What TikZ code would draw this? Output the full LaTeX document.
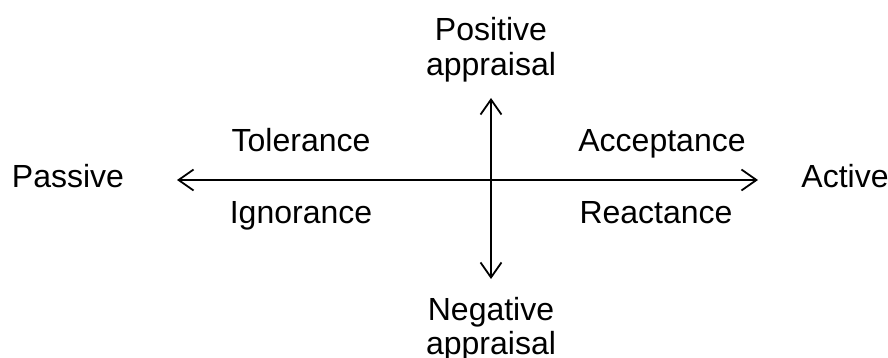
\documentclass[tikz,border=0pt]{standalone}
\usepackage{fontspec}
\setmainfont{Liberation Sans}
\usetikzlibrary{arrows.meta}
\begin{document}
\begin{tikzpicture}[x=1pt,y=-1pt,
  lbl/.style={font=\fontsize{32}{34.5}\selectfont, inner sep=0pt, anchor=base, align=center},
  axis/.style={line width=1.8pt, {Straight Barb[length=15pt,width=21pt]}-{Straight Barb[length=15pt,width=21pt]}}]
\useasboundingbox (0,0) rectangle (888,358);
\coordinate (hl) at (177,180);
\coordinate (hr) at (758,180);
\coordinate (vt) at (491,98);
\coordinate (vb) at (491,279);
\draw[axis] (hl) -- (hr);
\draw[axis] (vt) -- (vb);
\node[lbl] (pos) at (491,75.5) {Positive\\appraisal};
\node[lbl] (neg) at (491,354.5) {Negative\\appraisal};
\node[lbl] (pas) at (68,188) {Passive};
\node[lbl] (act) at (845,188) {Active};
\node[lbl] (tol) at (301,152) {Tolerance};
\node[lbl] (acc) at (662,152) {Acceptance};
\node[lbl] (ign) at (301,223) {Ignorance};
\node[lbl] (rea) at (656,223) {Reactance};
\end{tikzpicture}
\end{document}
